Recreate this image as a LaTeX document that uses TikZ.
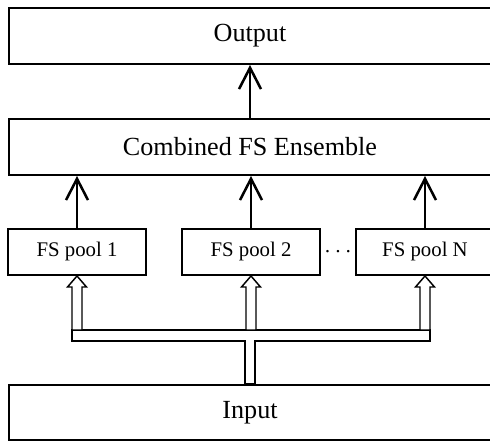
\documentclass[tikz,border=0pt]{standalone}
\usepackage{fontspec}
\setmainfont{Liberation Serif}
\usetikzlibrary{arrows.meta,calc}

% hollow double-line arrow pointing up into the bottom of a pool box
\newcommand\hollowup[1]{%
  \draw[hollow] (#1.south) -- ++(9.5,11) -- ++(-4.5,0) -- ++(0,43)
    -- ++(-10,0) -- ++(0,-43) -- ++(-4.5,0) -- cycle;}

\begin{document}
\begin{tikzpicture}[x=0.75pt,y=-0.75pt,
  widebox/.style={draw,line width=1.5pt,inner sep=0pt,
    minimum width=361.5pt,minimum height=42pt,font=\fontsize{19.6}{22}\selectfont},
  poolbox/.style={draw,line width=1.5pt,inner sep=0pt,
    minimum width=103.5pt,minimum height=34.5pt,font=\fontsize{15.6}{18}\selectfont},
  feed/.style={line width=1.9pt,-{Straight Barb[length=16pt,width=16.5pt]}},
  hollow/.style={draw,fill=white,line width=1.1pt,line join=miter}]

\path[use as bounding box,clip] (0,0) rectangle (490,441);

% stacked stages
\node[widebox] (out)  at (250,36)    {Output};
\node[widebox] (comb) at (250,147)   {Combined FS Ensemble};
\node[widebox,minimum height=41.25pt] (in) at (250,412.5) {Input};

% feature-selection pools
\node[poolbox] (p1) at (77,252)  {FS pool 1};
\node[poolbox] (p2) at (251,252) {FS pool 2};
\node[poolbox] (pN) at (425,252) {FS pool N};
\node[font=\fontsize{15.6}{18}\selectfont,inner sep=0pt] (dots) at (338,254) {·\,·\,·};

% pools feed the ensemble, ensemble feeds the output
\draw[feed] (p1.north) -- (p1.north |- comb.south);
\draw[feed] (p2.north) -- (p2.north |- comb.south);
\draw[feed] (pN.north) -- (pN.north |- comb.south);
\draw[feed] (comb.north) -- (out.south);

% input distribution bus
\coordinate (busL) at ($(p1.south)+(-5,54)$);
\coordinate (busR) at ($(pN.south)+(5,54)$);
\coordinate (busM) at (in.north |- busL);
\draw[hollow] (busL) -- (busR) -- ($(busR)+(0,11)$)
  -- ($(busM)+(5,11)$) -- ($(in.north)+(5,0)$)
  -- ($(in.north)+(-5,0)$) -- ($(busM)+(-5,11)$)
  -- ($(busL)+(0,11)$) -- cycle;
\hollowup{p1}
\hollowup{p2}
\hollowup{pN}
\end{tikzpicture}
\end{document}
